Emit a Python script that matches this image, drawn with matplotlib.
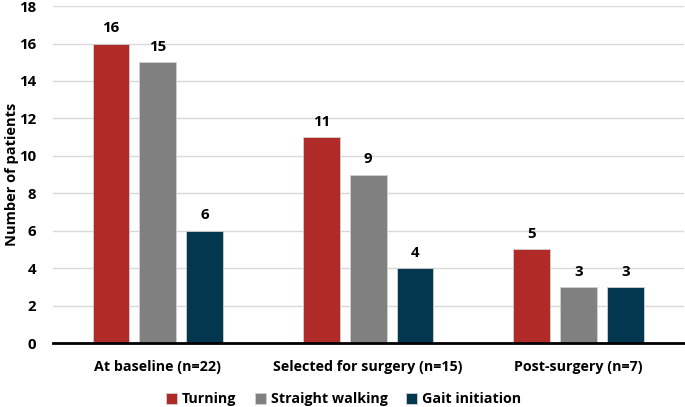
import numpy as np
import matplotlib.pyplot as plt

plt.rcParams['font.family'] = ['Open Sans', 'DejaVu Sans']
plt.rcParams['font.weight'] = 'bold'

# Datos
grupos = ['At baseline (n=22)', 'Selected for surgery (n=15)', 'Post-surgery (n=7)']
series = ['Turning', 'Straight walking', 'Gait initiation']
turning = [16, 11, 5]
straight = [15, 9, 3]
gait = [6, 4, 3]
colores = ['#B02A27', '#808080', '#03374F']

x = np.arange(len(grupos))
ancho = 0.175
paso = 0.223

fig = plt.figure(figsize=(6.85, 4.07), dpi=100)
ax = fig.add_axes([0.077, 0.157, 0.921, 0.828])

for i, (vals, nombre) in enumerate(zip([turning, straight, gait], series)):
    barras = ax.bar(x + (i - 1) * paso, vals, ancho, color=colores[i],
                    edgecolor='#D0D0D0', linewidth=0.6, label=nombre, zorder=3)
    for b, v in zip(barras, vals):
        ax.text(b.get_x() + b.get_width() / 2, v + 0.45, str(v),
                ha='center', va='bottom', fontsize=10.8, fontweight='bold')

ax.set_xlim(-0.5, 2.5)
ax.set_ylim(0, 18)
ax.set_yticks(range(0, 19, 2))
ax.set_xticks(x)
ax.set_xticklabels(grupos, fontsize=10.3, fontweight='bold')
ax.tick_params(axis='y', labelsize=10.8, length=0, pad=12)
ax.tick_params(axis='x', length=0, pad=12)
ax.yaxis.grid(True, color='#D9D9D9', linewidth=1, zorder=0)
for s in ['top', 'right', 'left']:
    ax.spines[s].set_visible(False)
ax.spines['bottom'].set_linewidth(2)
ax.spines['bottom'].set_zorder(4)

fig.text(0.017, 0.157 + 0.828 / 2, 'Number of patients', rotation=90,
         ha='center', va='center', fontsize=10.5, fontweight='bold')

fig.legend(loc='lower center', bbox_to_anchor=(0.502, -0.03), ncol=3, frameon=False,
           fontsize=10.3, handlelength=0.75, handleheight=0.75, handletextpad=0.35,
           columnspacing=1.3)

plt.savefig('out.png', dpi=100)
